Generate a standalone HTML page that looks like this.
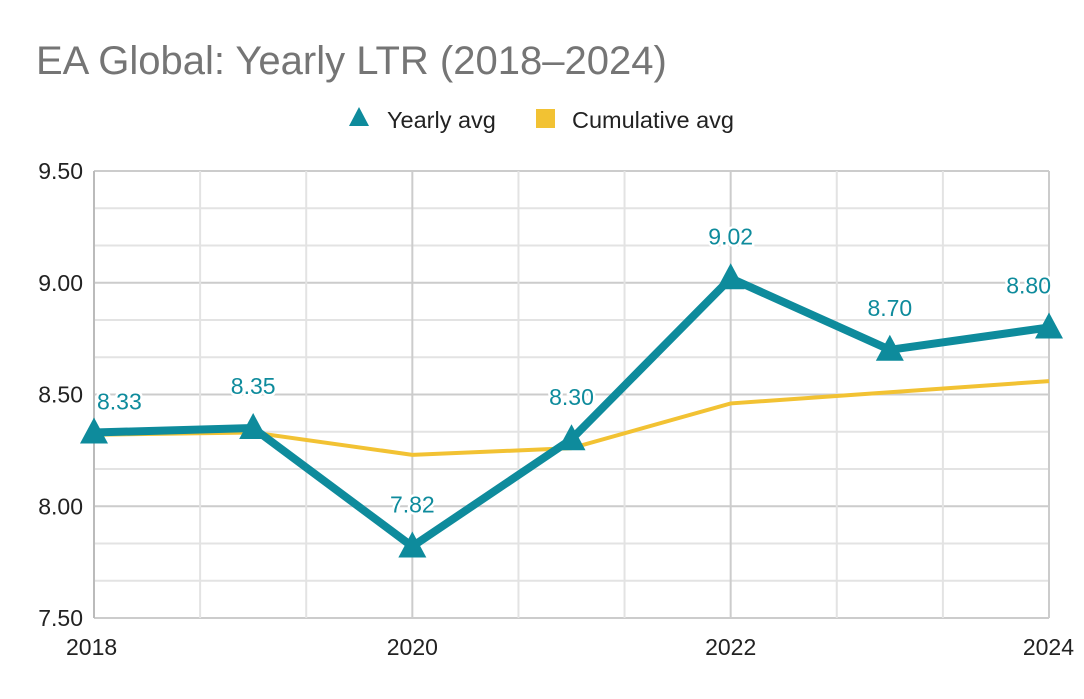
<!DOCTYPE html>
<html><head><meta charset="utf-8"><style>
body{margin:0;background:#fff;}
svg text{font-family:"Liberation Sans",sans-serif;}
</style></head><body>
<svg id="chart" width="1084" height="694" xmlns="http://www.w3.org/2000/svg">
<rect width="1084" height="694" fill="#fff"/>
<text x="36" y="74" font-size="40" fill="#757575">EA Global: Yearly LTR (2018–2024)</text>
<g>
<g><polygon points="359,107 349,126 369,126" fill="#0e8b9c"/><text x="387" y="128" font-size="23.5" fill="#222">Yearly avg</text></g>
<g><rect x="536" y="109" width="19" height="19" fill="#f2c233"/><text x="572" y="128" font-size="23.5" fill="#222">Cumulative avg</text></g>
</g>
<g id="grid"></g><g id="axes"></g><g id="series"></g><g id="labels"></g>
</svg>
<script>
const years=[2018,2019,2020,2021,2022,2023,2024];
const yearly=[8.33,8.35,7.82,8.30,9.02,8.70,8.80];
const cumulative=[8.32,8.33,8.23,8.26,8.46,8.51,8.56];
const yTicks=[7.5,8.0,8.5,9.0,9.5];
const yTickLabels=["7.50","8.00","8.50","9.00","9.50"];
const xTickLabels=["2018","2020","2022","2024"];
const x0=94,x1=1049,yTop=171,yBot=618,ymin=7.5,ymax=9.5;
const X=v=>x0+(v-2018)/6*(x1-x0);
const Y=v=>yBot-(v-ymin)/(ymax-ymin)*(yBot-yTop);
const NS="http://www.w3.org/2000/svg";
function mk(tag,attrs,parent){const e=document.createElementNS(NS,tag);for(const k in attrs)e.setAttribute(k,attrs[k]);document.getElementById(parent).appendChild(e);return e;}
for(let i=0;i<=12;i++){const v=ymin+i*(ymax-ymin)/12;const l=mk('line',{x1:x0,x2:x1,y1:Y(v),y2:Y(v),stroke:i%3==0?'#cccccc':'#e3e3e3','stroke-width':2},'grid');

}
for(let i=0;i<=9;i++){const v=2018+i*6/9;const l=mk('line',{x1:X(v),x2:X(v),y1:yTop,y2:yBot,stroke:i%3==0?'#cccccc':'#e3e3e3','stroke-width':2},'grid');

}
mk('line',{x1:x0,x2:x0,y1:yTop,y2:yBot,stroke:'#bbb','stroke-width':2},'axes');
yTicks.forEach((v,i)=>{const t=mk('text',{x:83,y:Y(v)+8,'font-size':23,'text-anchor':'end',fill:'#222'},'axes');t.textContent=yTickLabels[i];

});
xTickLabels.forEach(s=>{const v=+s;const xx=v==2018?X(v)-28:(v==2024?X(v)+25:X(v));
const t=mk('text',{x:xx,y:655,'font-size':23,'text-anchor':v==2018?'start':(v==2024?'end':'middle'),fill:'#222'},'axes');t.textContent=s;

});
const cp=mk('polyline',{points:years.map((y,i)=>X(y)+','+Y(cumulative[i])).join(' '),fill:'none',stroke:'#f2c233','stroke-width':4},'series');


const yp=mk('polyline',{points:years.map((y,i)=>X(y)+','+Y(yearly[i])).join(' '),fill:'none',stroke:'#0e8b9c','stroke-width':8,'stroke-linejoin':'round'},'series');


years.forEach((y,i)=>{const cx=X(y),cy=Y(yearly[i]);
const p=mk('polygon',{points:`${cx},${cy-15} ${cx-14},${cy+11} ${cx+14},${cy+11}`,fill:'#0e8b9c'},'series');


let tx=cx,anchor='middle',dy=-34;if(i==0){tx=cx+3;anchor='start';dy=-23;}if(i==6){tx=cx+2;anchor='end';}
const t=mk('text',{x:tx,y:cy+dy,'font-size':23,'text-anchor':anchor,fill:'#0e8b9c',stroke:'#fff','stroke-width':5,'paint-order':'stroke'},'labels');
t.textContent=yearly[i].toFixed(2);

});
</script>
</body></html>
